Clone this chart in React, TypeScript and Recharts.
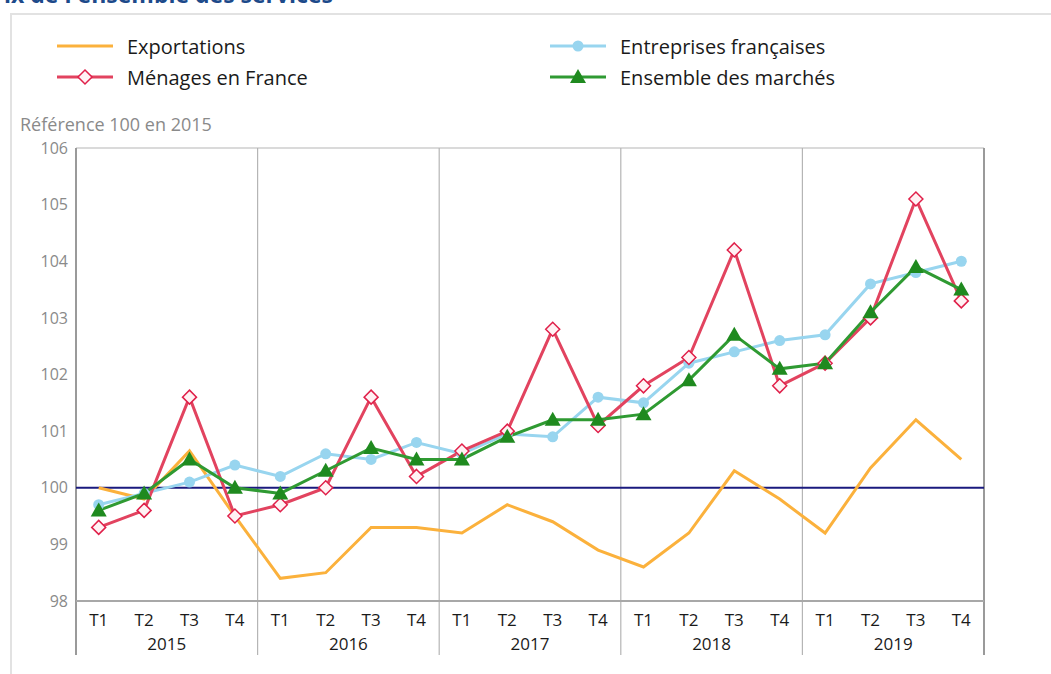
import React from 'react';
import {
  LineChart,
  Line,
  XAxis,
  YAxis,
  CartesianGrid,
  ReferenceLine,
  usePlotArea,
} from 'recharts';

const years = ['2015', '2016', '2017', '2018', '2019'];
const quarters = ['T1', 'T2', 'T3', 'T4'];
const yTicks = [98, 99, 100, 101, 102, 103, 104, 105, 106];

const exportations = [
  100.0, 99.8, 100.65, 99.5,
  98.4, 98.5, 99.3, 99.3,
  99.2, 99.7, 99.4, 98.9,
  98.6, 99.2, 100.3, 99.8,
  99.2, 100.35, 101.2, 100.5,
];
const menages = [
  99.3, 99.6, 101.6, 99.5,
  99.7, 100.0, 101.6, 100.2,
  100.65, 101.0, 102.8, 101.1,
  101.8, 102.3, 104.2, 101.8,
  102.2, 103.0, 105.1, 103.3,
];
const entreprises = [
  99.7, 99.9, 100.1, 100.4,
  100.2, 100.6, 100.5, 100.8,
  100.6, 100.95, 100.9, 101.6,
  101.5, 102.2, 102.4, 102.6,
  102.7, 103.6, 103.8, 104.0,
];
const ensemble = [
  99.6, 99.9, 100.5, 100.0,
  99.9, 100.3, 100.7, 100.5,
  100.5, 100.9, 101.2, 101.2,
  101.3, 101.9, 102.7, 102.1,
  102.2, 103.1, 103.9, 103.5,
];

const data = years.flatMap((year, yi) =>
  quarters.map((q, qi) => {
    const i = yi * 4 + qi;
    return {
      q,
      year,
      exportations: exportations[i],
      menages: menages[i],
      entreprises: entreprises[i],
      ensemble: ensemble[i],
    };
  })
);

const W = 1051;
const H = 674;
const MARGIN = { top: 148, right: 7, bottom: 18, left: 16 };
const AXIS_W = 60;
const PLOT_W = W - MARGIN.left - MARGIN.right - 2 * AXIS_W;
// half a quarter / half a year, so points sit in the middle of their slot
const QPAD = PLOT_W / data.length / 2;
const YPAD = PLOT_W / years.length / 2;

const ORANGE = '#fbb13c';
const RED = '#e2435f';
const RED_DARK = '#e0204a';
const BLUE = '#98d5ef';
const GREEN = '#2f9a32';
const GREEN_DARK = '#1f8a1f';
const GRID = '#b5b5b5';
const FONT = '"Open Sans", sans-serif';

const Diamond = (props: any) => {
  const { cx, cy, index } = props;
  if (cx == null || cy == null) return <g key={`d${index}`} />;
  return (
    <polygon
      key={`d${index}`}
      points={`${cx},${cy - 7} ${cx + 7},${cy} ${cx},${cy + 7} ${cx - 7},${cy}`}
      fill="#fff2f4"
      stroke={RED_DARK}
      strokeWidth={1.5}
    />
  );
};

const Dot = (props: any) => {
  const { cx, cy, index } = props;
  if (cx == null || cy == null) return <g key={`c${index}`} />;
  return <circle key={`c${index}`} cx={cx} cy={cy} r={5.5} fill={BLUE} />;
};

const Triangle = (props: any) => {
  const { cx, cy, index } = props;
  if (cx == null || cy == null) return <g key={`t${index}`} />;
  return (
    <polygon
      key={`t${index}`}
      points={`${cx},${cy - 8} ${cx + 8},${cy + 6} ${cx - 8},${cy + 6}`}
      fill={GREEN_DARK}
    />
  );
};

// year separators, running down through the tick labels
const YearSeparators = () => {
  const plot = usePlotArea();
  if (!plot) return null;
  const step = plot.width / years.length;
  return (
    <g>
      {Array.from({ length: years.length + 1 }, (_, i) => (
        <line
          key={i}
          x1={plot.x + i * step}
          x2={plot.x + i * step}
          y1={plot.y}
          y2={plot.y + plot.height + 54}
          stroke={i === 0 || i === years.length ? '#9a9a9a' : GRID}
          strokeWidth={i === 0 || i === years.length ? 2 : 1.2}
        />
      ))}
    </g>
  );
};

const legendItems = [
  { label: 'Exportations', color: ORANGE, marker: 'none', left: 57, top: 46 },
  { label: 'Ménages en France', color: RED, marker: 'diamond', left: 57, top: 77 },
  { label: 'Entreprises françaises', color: BLUE, marker: 'circle', left: 550, top: 46 },
  { label: 'Ensemble des marchés', color: GREEN, marker: 'triangle', left: 550, top: 77 },
];

const LegendIcon = ({ color, marker }: { color: string; marker: string }) => (
  <svg width={56} height={20} style={{ display: 'block' }}>
    <line x1={0} x2={56} y1={10} y2={10} stroke={color} strokeWidth={3} />
    {marker === 'diamond' && (
      <polygon points="28,3 35,10 28,17 21,10" fill="#fff2f4" stroke={RED_DARK} strokeWidth={1.5} />
    )}
    {marker === 'circle' && <circle cx={28} cy={10} r={5.5} fill={BLUE} />}
    {marker === 'triangle' && <polygon points="28,2 36,16 20,16" fill={GREEN_DARK} />}
  </svg>
);

export default function App() {
  return (
    <div
      style={{
        position: 'absolute',
        left: 0,
        top: 0,
        width: W,
        height: H,
        overflow: 'hidden',
        background: '#fff',
        fontFamily: FONT,
      }}
    >
      <div
        style={{
          position: 'absolute',
          right: 718,
          top: -17,
          whiteSpace: 'nowrap',
          fontSize: 23,
          fontWeight: 700,
          color: '#1d4a8a',
          lineHeight: '23px',
        }}
      >
        Prix de l'ensemble des services
      </div>
      <div
        style={{
          position: 'absolute',
          left: 10,
          top: 13,
          width: 1100,
          height: 700,
          border: '2px solid #e2e2e2',
        }}
      />
      {legendItems.map((it) => (
        <div
          key={it.label}
          style={{
            position: 'absolute',
            left: it.left,
            top: it.top - 13,
            height: 26,
            display: 'flex',
            alignItems: 'center',
            fontSize: 20,
            color: '#1a1a1a',
            whiteSpace: 'nowrap',
          }}
        >
          <LegendIcon color={it.color} marker={it.marker} />
          <span style={{ marginLeft: 14 }}>{it.label}</span>
        </div>
      ))}
      <div
        style={{
          position: 'absolute',
          left: 20,
          top: 111,
          fontSize: 18,
          lineHeight: '26px',
          color: '#8a8a8a',
          whiteSpace: 'nowrap',
        }}
      >
        Référence 100 en 2015
      </div>
      <div style={{ position: 'absolute', left: 0, top: 0 }}>
        <LineChart width={W} height={H} data={data} margin={MARGIN}>
          <YearSeparators />
          <CartesianGrid vertical={false} stroke={GRID} strokeWidth={1.2} />
          <XAxis
            dataKey="q"
            interval={0}
            padding={{ left: QPAD, right: QPAD }}
            axisLine={{ stroke: '#a8a8a8', strokeWidth: 2 }}
            tickLine={false}
            tickSize={0}
            tickMargin={13}
            height={25}
            tick={{ fill: '#1a1a1a', fontSize: 17, fontFamily: FONT }}
          />
          <XAxis
            xAxisId="year"
            dataKey="year"
            allowDuplicatedCategory={false}
            padding={{ left: YPAD, right: YPAD }}
            axisLine={false}
            tickLine={false}
            tickSize={0}
            tickMargin={12}
            height={30}
            interval={0}
            tick={{ fill: '#1a1a1a', fontSize: 17, fontFamily: FONT }}
          />
          <YAxis
            yAxisId="left"
            domain={[98, 106]}
            ticks={yTicks}
            width={AXIS_W}
            axisLine={false}
            tickLine={false}
            tickSize={0}
            tickMargin={8}
            tick={{ fill: '#8a8a8a', fontSize: 16, fontFamily: FONT }}
          />
          <YAxis
            yAxisId="right"
            orientation="right"
            domain={[98, 106]}
            ticks={yTicks}
            width={AXIS_W}
            axisLine={false}
            tickLine={false}
            tickSize={0}
            tickMargin={8}
            tick={{ fill: '#8a8a8a', fontSize: 16, fontFamily: FONT, textAnchor: 'start' }}
          />
          <ReferenceLine yAxisId="left" y={100} stroke="#1a1a7e" strokeWidth={2} />
          <Line
            yAxisId="left"
            dataKey="exportations"
            stroke={ORANGE}
            strokeWidth={3}
            dot={false}
            activeDot={false}
            isAnimationActive={false}
          />
          <Line
            yAxisId="left"
            dataKey="entreprises"
            stroke={BLUE}
            strokeWidth={3}
            dot={Dot}
            activeDot={false}
            isAnimationActive={false}
          />
          <Line
            yAxisId="left"
            dataKey="menages"
            stroke={RED}
            strokeWidth={3}
            dot={Diamond}
            activeDot={false}
            isAnimationActive={false}
          />
          <Line
            yAxisId="left"
            dataKey="ensemble"
            stroke={GREEN}
            strokeWidth={3}
            dot={Triangle}
            activeDot={false}
            isAnimationActive={false}
          />
        </LineChart>
      </div>
    </div>
  );
}
